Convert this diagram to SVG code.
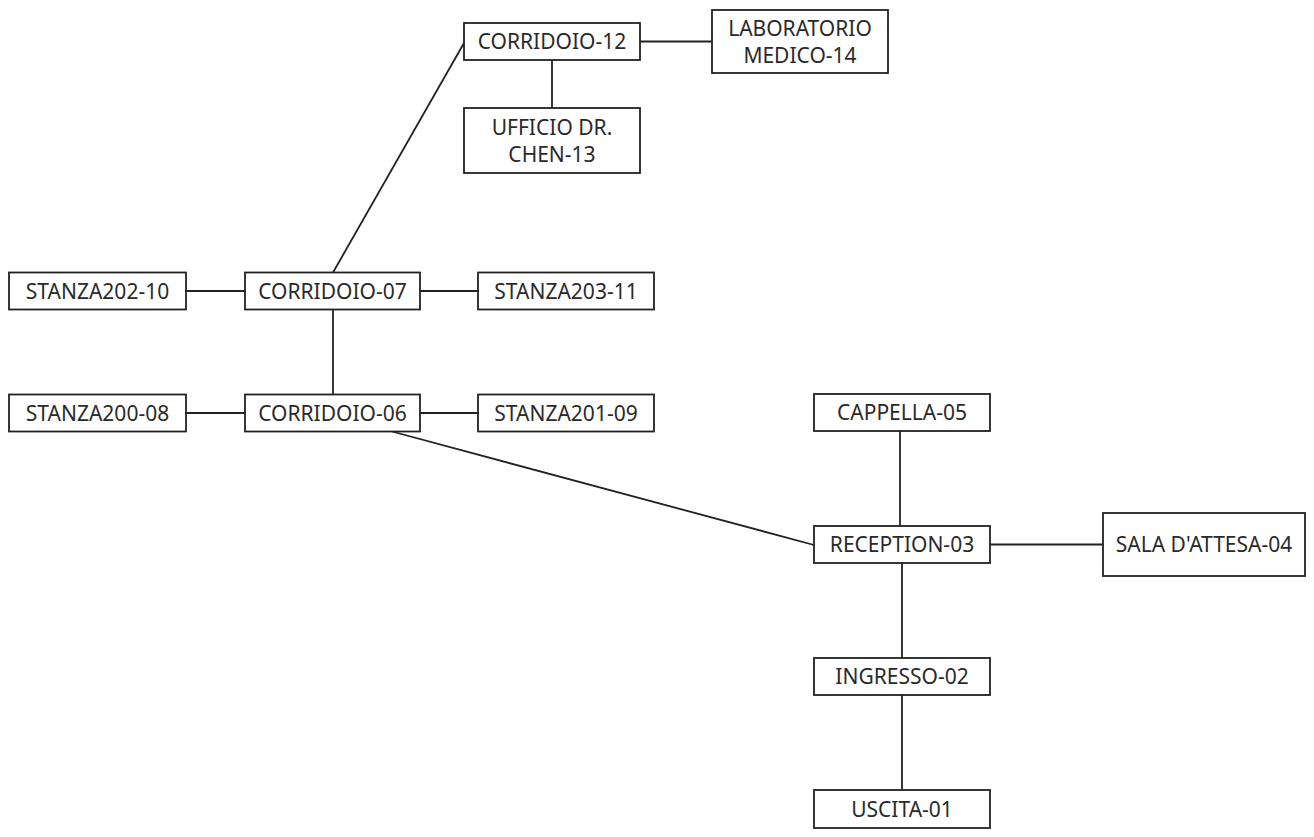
<svg xmlns="http://www.w3.org/2000/svg" width="1314" height="837" viewBox="0 0 1314 837">
  <style>
    .node rect { fill: #ffffff; stroke: #222222; stroke-width: 1.8; }
    .node text { font-family: "Noto Sans", "Open Sans", sans-serif; font-size: 21px; fill: #2a2a2a; text-anchor: middle; }
    #edges line { stroke: #222222; stroke-width: 1.8; fill: none; }
  </style>
  <rect x="0" y="0" width="1314" height="837" fill="#ffffff"/>

  <!-- corridors and room connections -->
  <g id="edges">
    <line x1="640" y1="41.5" x2="712" y2="41.5"/>
    <line x1="552" y1="60" x2="552" y2="108"/>
    <line x1="333" y1="272.5" x2="464" y2="43"/>
    <line x1="186" y1="291" x2="245" y2="291"/>
    <line x1="420" y1="291" x2="478" y2="291"/>
    <line x1="333" y1="309.5" x2="333" y2="394.5"/>
    <line x1="186" y1="413" x2="245" y2="413"/>
    <line x1="420" y1="413" x2="478" y2="413"/>
    <line x1="392" y1="431.5" x2="814" y2="545"/>
    <line x1="900" y1="431" x2="900" y2="526"/>
    <line x1="990" y1="544.5" x2="1103" y2="544.5"/>
    <line x1="902" y1="563" x2="902" y2="658"/>
    <line x1="902" y1="695" x2="902" y2="790"/>
  </g>

  <g id="corridoio-12" class="node">
    <rect x="464" y="23" width="176" height="37"/>
    <text x="552" y="49">CORRIDOIO-12</text>
  </g>
  <g id="laboratorio-medico-14" class="node">
    <rect x="712" y="10" width="176" height="63"/>
    <text x="800" y="36">LABORATORIO</text>
    <text x="800" y="63">MEDICO-14</text>
  </g>
  <g id="ufficio-dr-chen-13" class="node">
    <rect x="464" y="108" width="176" height="65"/>
    <text x="552" y="135">UFFICIO DR.</text>
    <text x="552" y="162">CHEN-13</text>
  </g>
  <g id="stanza202-10" class="node">
    <rect x="9" y="272.5" width="177" height="37"/>
    <text x="97.5" y="298.5">STANZA202-10</text>
  </g>
  <g id="corridoio-07" class="node">
    <rect x="245" y="272.5" width="175" height="37"/>
    <text x="332.5" y="298.5">CORRIDOIO-07</text>
  </g>
  <g id="stanza203-11" class="node">
    <rect x="478" y="272.5" width="176" height="37"/>
    <text x="566" y="298.5">STANZA203-11</text>
  </g>
  <g id="stanza200-08" class="node">
    <rect x="9" y="394.5" width="177" height="37"/>
    <text x="97.5" y="420.5">STANZA200-08</text>
  </g>
  <g id="corridoio-06" class="node">
    <rect x="245" y="394.5" width="175" height="37"/>
    <text x="332.5" y="420.5">CORRIDOIO-06</text>
  </g>
  <g id="stanza201-09" class="node">
    <rect x="478" y="394.5" width="176" height="37"/>
    <text x="566" y="420.5">STANZA201-09</text>
  </g>
  <g id="cappella-05" class="node">
    <rect x="814" y="394" width="176" height="37"/>
    <text x="902" y="420">CAPPELLA-05</text>
  </g>
  <g id="reception-03" class="node">
    <rect x="814" y="526" width="176" height="37"/>
    <text x="902" y="552">RECEPTION-03</text>
  </g>
  <g id="sala-attesa-04" class="node">
    <rect x="1103" y="513" width="202" height="63"/>
    <text x="1204" y="552">SALA D'ATTESA-04</text>
  </g>
  <g id="ingresso-02" class="node">
    <rect x="814" y="658" width="176" height="37"/>
    <text x="902" y="684">INGRESSO-02</text>
  </g>
  <g id="uscita-01" class="node">
    <rect x="814" y="790" width="176" height="38"/>
    <text x="902" y="816.5">USCITA-01</text>
  </g>
</svg>
